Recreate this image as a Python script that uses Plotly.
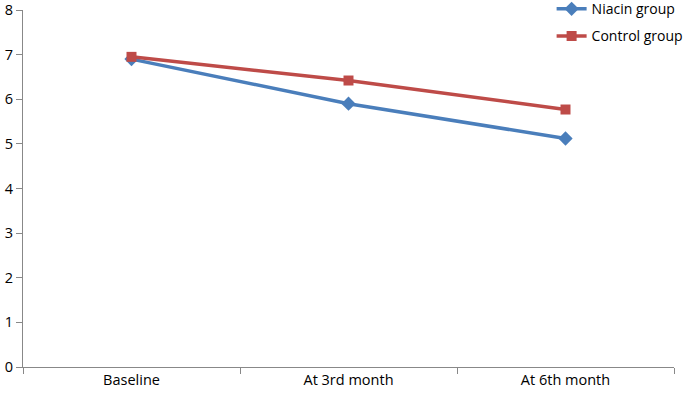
import plotly.graph_objects as go

categories = ["Baseline", "At 3rd month", "At 6th month"]
niacin = [6.9, 5.9, 5.12]
control = [6.95, 6.42, 5.77]
y_ticks = [0, 1, 2, 3, 4, 5, 6, 7, 8]

fig = go.Figure()
fig.add_trace(go.Scatter(
    x=categories, y=niacin, name="Niacin group", mode="lines+markers",
    line=dict(color="#4a7ebb", width=3.5),
    marker=dict(symbol="diamond", size=11, color="#4a7ebb"),
    legendgroup="a",
))
fig.add_trace(go.Scatter(
    x=categories, y=control, name="Control group", mode="lines+markers",
    line=dict(color="#be4b48", width=3.5),
    marker=dict(symbol="square", size=10, color="#be4b48"),
    legendgroup="b",
))

fig.update_layout(
    width=685, height=394,
    margin=dict(l=23, r=11, t=10, b=27, autoexpand=False),
    paper_bgcolor="white", plot_bgcolor="white",
    font=dict(family="Open Sans, Liberation Sans, sans-serif", size=14.5, color="#000000"),
    showlegend=True,
    legend=dict(x=0.812, y=1.047, xanchor="left", yanchor="top",
                bgcolor="rgba(255,255,255,0)", tracegroupgap=6,
                font=dict(size=14)),
    xaxis=dict(
        type="category", range=[-0.5, 2.5], tickson="boundaries",
        showline=True, linecolor="#888888", linewidth=1,
        ticks="outside", ticklen=6, tickcolor="#888888",
        showgrid=False, zeroline=False, automargin=False,
    ),
    yaxis=dict(
        range=[0, 8], tickvals=y_ticks, ticktext=[str(v) for v in y_ticks],
        showline=True, linecolor="#888888", linewidth=1,
        ticks="outside", ticklen=6, tickcolor="#888888",
        showgrid=False, zeroline=False, automargin=False,
    ),
)

fig.write_html("out.html", config={"displayModeBar": False},
               post_script="document.body.style.margin='0';")
